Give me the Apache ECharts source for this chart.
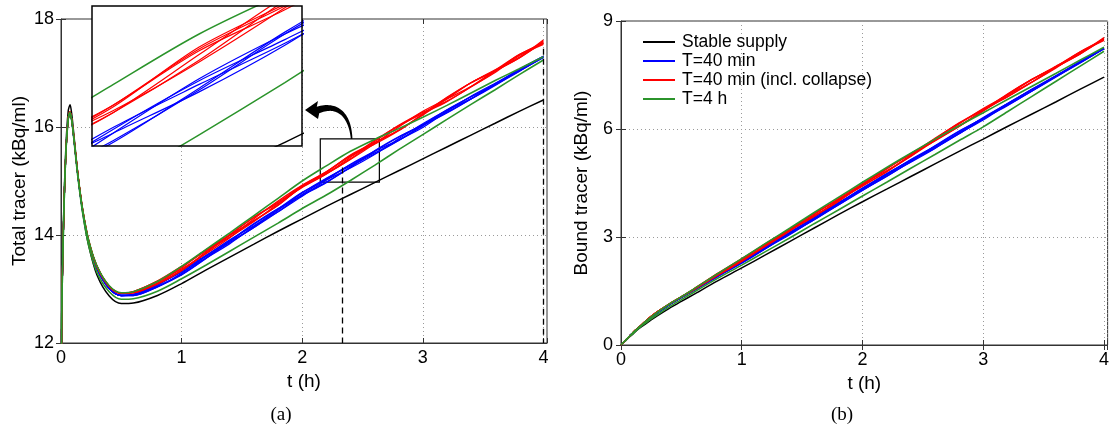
<!DOCTYPE html>
<html>
<head>
<meta charset="utf-8">
<script src="https://cdn.jsdelivr.net/npm/echarts@6/dist/echarts.min.js"></script>
<style>
  html, body { margin: 0; padding: 0; background: #fff; }
  #chart { width: 1112px; height: 433px; }
</style>
</head>
<body>
<div id="chart"></div>
<script>
// Sampling times (h)
const timeH = [0, 0.005, 0.02, 0.04, 0.06, 0.075, 0.09, 0.11, 0.14, 0.18, 0.23, 0.3, 0.4,
  0.5, 0.6, 0.8, 1.0, 1.2, 1.4, 1.6, 1.8, 2.0, 2.2, 2.4, 2.6, 2.8, 3.0, 3.2, 3.4, 3.6, 3.8, 4.0];

// Tick labels
const timeTicks = [0, 1, 2, 3, 4];
const totalTicks = [12, 14, 16, 18];
const boundTicks = [0, 3, 6, 9];

// Total tracer (kBq/ml)
const stableTotal = [0, 12.3, 14.2, 15.6, 16.3, 16.41, 16.22, 15.78, 15.12, 14.42, 13.8, 13.25, 12.87,
  12.73, 12.74, 12.88, 13.10, 13.35, 13.59, 13.83, 14.07, 14.30, 14.53, 14.75, 14.97, 15.19, 15.41, 15.63, 15.85, 16.07, 16.29, 16.50];

const t40Total = [
  [0, 12.2, 14.1, 15.5, 16.15, 16.27, 16.11, 15.72, 15.1, 14.44, 13.86, 13.37, 13.01,
   12.88, 12.90, 13.08, 13.33, 13.60, 13.86, 14.14, 14.46, 14.78, 15.05, 15.28, 15.50, 15.75, 16.04, 16.32, 16.56, 16.78, 17.03, 17.30],
  [0, 12.2, 14.1, 15.5, 16.15, 16.27, 16.11, 15.72, 15.1, 14.44, 13.86, 13.37, 13.01,
   12.88, 12.89, 13.05, 13.27, 13.57, 13.89, 14.20, 14.48, 14.73, 14.97, 15.26, 15.56, 15.82, 16.03, 16.26, 16.52, 16.80, 17.07, 17.31],
  [0, 12.2, 14.1, 15.5, 16.15, 16.27, 16.11, 15.72, 15.1, 14.44, 13.86, 13.37, 13.01,
   12.88, 12.88, 13.04, 13.29, 13.61, 13.91, 14.17, 14.43, 14.72, 15.02, 15.31, 15.55, 15.76, 15.99, 16.29, 16.57, 16.81, 17.04, 17.29],
  [0, 12.2, 14.1, 15.5, 16.15, 16.27, 16.11, 15.72, 15.1, 14.44, 13.86, 13.37, 13.01,
   12.88, 12.90, 13.09, 13.31, 13.57, 13.84, 14.16, 14.48, 14.79, 15.02, 15.24, 15.49, 15.78, 16.06, 16.31, 16.52, 16.77, 17.06, 17.31],
  [0, 12.2, 14.1, 15.5, 16.15, 16.27, 16.11, 15.72, 15.1, 14.44, 13.86, 13.37, 13.01,
   12.88, 12.89, 13.07, 13.34, 13.62, 13.88, 14.14, 14.43, 14.75, 15.04, 15.30, 15.52, 15.75, 16.02, 16.31, 16.56, 16.79, 17.04, 17.29],
  [0, 12.2, 14.1, 15.5, 16.15, 16.27, 16.11, 15.72, 15.1, 14.44, 13.86, 13.37, 13.01,
   12.88, 12.88, 13.04, 13.26, 13.56, 13.89, 14.21, 14.49, 14.74, 14.98, 15.25, 15.55, 15.81, 16.04, 16.27, 16.52, 16.79, 17.06, 17.30]
];

const collapseTotal = [
  [0, 12.2, 14.1, 15.5, 16.15, 16.28, 16.12, 15.74, 15.12, 14.46, 13.89, 13.41, 13.05,
   12.92, 12.95, 13.15, 13.42, 13.70, 13.96, 14.25, 14.58, 14.92, 15.17, 15.46, 15.68, 15.93, 16.24, 16.55, 16.82, 17.04, 17.28, 17.59],
  [0, 12.2, 14.1, 15.5, 16.15, 16.28, 16.12, 15.74, 15.12, 14.46, 13.89, 13.41, 13.05,
   12.92, 12.94, 13.10, 13.35, 13.68, 14.01, 14.33, 14.59, 14.88, 15.13, 15.44, 15.75, 16.02, 16.25, 16.47, 16.75, 17.05, 17.34, 17.55],
  [0, 12.2, 14.1, 15.5, 16.15, 16.28, 16.12, 15.74, 15.12, 14.46, 13.89, 13.41, 13.05,
   12.92, 12.93, 13.11, 13.39, 13.72, 14.00, 14.27, 14.55, 14.90, 15.16, 15.48, 15.71, 15.94, 16.22, 16.52, 16.82, 17.06, 17.29, 17.61],
  [0, 12.2, 14.1, 15.5, 16.15, 16.28, 16.12, 15.74, 15.12, 14.46, 13.89, 13.41, 13.05,
   12.92, 12.95, 13.14, 13.37, 13.65, 13.95, 14.30, 14.63, 14.92, 15.14, 15.40, 15.69, 16.00, 16.29, 16.52, 16.75, 17.01, 17.32, 17.53],
  [0, 12.2, 14.1, 15.5, 16.15, 16.28, 16.12, 15.74, 15.12, 14.46, 13.89, 13.41, 13.05,
   12.92, 12.94, 13.13, 13.41, 13.72, 13.99, 14.26, 14.55, 14.90, 15.17, 15.47, 15.70, 15.94, 16.23, 16.54, 16.82, 17.04, 17.28, 17.57],
  [0, 12.2, 14.1, 15.5, 16.15, 16.28, 16.12, 15.74, 15.12, 14.46, 13.89, 13.41, 13.05,
   12.92, 12.93, 13.09, 13.34, 13.66, 14.00, 14.33, 14.61, 14.89, 15.13, 15.41, 15.73, 16.03, 16.27, 16.48, 16.74, 17.03, 17.34, 17.56]
];

const t4hTotal = [
  [0, 12.2, 14.1, 15.5, 16.15, 16.27, 16.12, 15.74, 15.12, 14.47, 13.9, 13.42, 13.06,
   12.93, 12.95, 13.14, 13.42, 13.73, 14.04, 14.36, 14.68, 15.00, 15.28, 15.55, 15.77, 15.97, 16.18, 16.40, 16.63, 16.86, 17.08, 17.30],
  [0, 12.2, 14.1, 15.5, 16.14, 16.26, 16.1, 15.7, 15.07, 14.4, 13.8, 13.3, 12.95,
   12.81, 12.82, 12.96, 13.19, 13.44, 13.70, 13.96, 14.22, 14.49, 14.74, 15.01, 15.29, 15.58, 15.86, 16.14, 16.42, 16.69, 16.97, 17.24]
];

// Bound tracer (kBq/ml)
const stableBound = [0, 0.02, 0.07, 0.13, 0.19, 0.24, 0.28, 0.34, 0.43, 0.53, 0.65, 0.81, 1.02,
  1.21, 1.40, 1.78, 2.14, 2.51, 2.88, 3.25, 3.62, 3.98, 4.33, 4.68, 5.03, 5.38, 5.72, 6.07, 6.41, 6.75, 7.10, 7.44];

const t40Bound = [
  [0, 0.02, 0.07, 0.14, 0.21, 0.26, 0.31, 0.37, 0.46, 0.58, 0.72, 0.89, 1.12,
   1.32, 1.53, 1.94, 2.34, 2.72, 3.09, 3.48, 3.92, 4.35, 4.76, 5.12, 5.47, 5.87, 6.30, 6.71, 7.09, 7.45, 7.83, 8.24],
  [0, 0.02, 0.07, 0.14, 0.21, 0.26, 0.31, 0.37, 0.46, 0.58, 0.72, 0.89, 1.12,
   1.32, 1.52, 1.91, 2.28, 2.69, 3.12, 3.54, 3.94, 4.30, 4.68, 5.10, 5.53, 5.94, 6.29, 6.65, 7.05, 7.47, 7.87, 8.25],
  [0, 0.02, 0.07, 0.14, 0.21, 0.26, 0.31, 0.37, 0.46, 0.58, 0.72, 0.89, 1.12,
   1.32, 1.51, 1.90, 2.30, 2.73, 3.14, 3.51, 3.89, 4.29, 4.73, 5.15, 5.52, 5.88, 6.25, 6.68, 7.10, 7.48, 7.84, 8.23],
  [0, 0.02, 0.07, 0.14, 0.21, 0.26, 0.31, 0.37, 0.46, 0.58, 0.72, 0.89, 1.12,
   1.32, 1.53, 1.95, 2.32, 2.69, 3.07, 3.50, 3.94, 4.36, 4.73, 5.08, 5.46, 5.90, 6.32, 6.70, 7.05, 7.44, 7.86, 8.25],
  [0, 0.02, 0.07, 0.14, 0.21, 0.26, 0.31, 0.37, 0.46, 0.58, 0.72, 0.89, 1.12,
   1.32, 1.52, 1.93, 2.35, 2.74, 3.11, 3.48, 3.89, 4.32, 4.75, 5.14, 5.49, 5.87, 6.28, 6.70, 7.09, 7.46, 7.84, 8.23],
  [0, 0.02, 0.07, 0.14, 0.21, 0.26, 0.31, 0.37, 0.46, 0.58, 0.72, 0.89, 1.12,
   1.32, 1.51, 1.90, 2.27, 2.68, 3.12, 3.55, 3.95, 4.31, 4.69, 5.09, 5.52, 5.93, 6.30, 6.66, 7.05, 7.46, 7.86, 8.24]
];

const collapseBound = [
  [0, 0.02, 0.07, 0.14, 0.21, 0.26, 0.31, 0.38, 0.47, 0.59, 0.74, 0.92, 1.14,
   1.34, 1.55, 1.99, 2.40, 2.80, 3.18, 3.57, 4.02, 4.48, 4.91, 5.30, 5.67, 6.07, 6.52, 6.97, 7.37, 7.72, 8.08, 8.52],
  [0, 0.02, 0.07, 0.14, 0.21, 0.26, 0.31, 0.38, 0.47, 0.59, 0.74, 0.92, 1.14,
   1.34, 1.54, 1.94, 2.33, 2.78, 3.23, 3.65, 4.03, 4.41, 4.82, 5.28, 5.74, 6.16, 6.53, 6.89, 7.30, 7.73, 8.14, 8.48],
  [0, 0.02, 0.07, 0.14, 0.21, 0.26, 0.31, 0.38, 0.47, 0.59, 0.74, 0.92, 1.14,
   1.34, 1.53, 1.95, 2.37, 2.82, 3.22, 3.59, 3.99, 4.44, 4.89, 5.32, 5.70, 6.08, 6.50, 6.94, 7.37, 7.74, 8.09, 8.54],
  [0, 0.02, 0.07, 0.14, 0.21, 0.26, 0.31, 0.38, 0.47, 0.59, 0.74, 0.92, 1.14,
   1.34, 1.55, 1.98, 2.35, 2.75, 3.17, 3.62, 4.07, 4.48, 4.84, 5.24, 5.68, 6.14, 6.57, 6.94, 7.30, 7.69, 8.12, 8.46],
  [0, 0.02, 0.07, 0.14, 0.21, 0.26, 0.31, 0.38, 0.47, 0.59, 0.74, 0.92, 1.14,
   1.34, 1.54, 1.97, 2.39, 2.82, 3.21, 3.58, 3.99, 4.45, 4.90, 5.31, 5.69, 6.08, 6.51, 6.96, 7.37, 7.72, 8.08, 8.50],
  [0, 0.02, 0.07, 0.14, 0.21, 0.26, 0.31, 0.38, 0.47, 0.59, 0.74, 0.92, 1.14,
   1.34, 1.53, 1.93, 2.32, 2.76, 3.22, 3.65, 4.05, 4.43, 4.81, 5.25, 5.72, 6.17, 6.55, 6.90, 7.29, 7.71, 8.14, 8.49]
];

const t4hBound = [
  [0, 0.02, 0.07, 0.14, 0.21, 0.26, 0.31, 0.38, 0.47, 0.59, 0.73, 0.91, 1.14,
   1.34, 1.55, 1.98, 2.40, 2.83, 3.25, 3.68, 4.10, 4.52, 4.93, 5.33, 5.72, 6.09, 6.45, 6.82, 7.18, 7.54, 7.91, 8.27],
  [0, 0.02, 0.07, 0.13, 0.20, 0.25, 0.29, 0.35, 0.44, 0.55, 0.68, 0.84, 1.06,
   1.26, 1.46, 1.85, 2.22, 2.60, 2.98, 3.37, 3.75, 4.14, 4.52, 4.91, 5.29, 5.68, 6.06, 6.48, 6.90, 7.32, 7.74, 8.16]
];

// Region of interest outlined on the total-tracer panel, and the ranges of the magnified view
const zoomTime = [2.15, 2.64];
const zoomBoxTotal = [14.98, 15.78];
const insetTotal = [14.95, 15.70];
const markedTimes = [2.33, 4.0];
const markedTops = [15.25, 17.45];

const NAMES = ['Stable supply', 'T=40 min', 'T=40 min (incl. collapse)', 'T=4 h'];
const COLORS = ['#000000', '#0000ff', '#ff0000', '#2b942b'];
const FONT = 'Liberation Sans';

// Layout (pixels)
const G_LEFT = { left: 61, top: 19, width: 486, height: 324 };
const G_RIGHT = { left: 621, top: 21, width: 488, height: 324 };
const G_INSET = { left: 92, top: 6, width: 210, height: 140 };
const X_MAX = 4.03;

const pairs = vals => timeH.map((t, i) => [t, vals[i]]);

function curve(name, color, vals, axis, width, z) {
  return {
    type: 'line', name: name, data: pairs(vals),
    xAxisIndex: axis, yAxisIndex: axis,
    showSymbol: false, symbol: 'none',
    smooth: 0.3,
    lineStyle: { color: color, width: width },
    itemStyle: { color: color },
    emphasis: { disabled: true },
    silent: true, animation: false, z: z
  };
}

function family(axis, stable, t40, collapse, t4h, w, z) {
  const out = [];
  out.push(curve(NAMES[0], COLORS[0], stable, axis, w + 0.2, z));
  t40.forEach(v => out.push(curve(NAMES[1], COLORS[1], v, axis, w, z)));
  collapse.forEach(v => out.push(curve(NAMES[2], COLORS[2], v, axis, w, z)));
  t4h.forEach(v => out.push(curve(NAMES[3], COLORS[3], v, axis, w + 0.3, z)));
  return out;
}

const leftSeries = family(0, stableTotal, t40Total, collapseTotal, t4hTotal, 1.3, 2);
const rightSeries = family(2, stableBound, t40Bound, collapseBound, t4hBound, 1.3, 2);
const insetSeries = family(4, stableTotal, t40Total, collapseTotal, t4hTotal, 1.2, 5);

// Zoom window outline and dashed time markers on the total-tracer panel
leftSeries[0].markArea = {
  silent: true,
  itemStyle: { color: 'rgba(0,0,0,0)', borderColor: '#000', borderWidth: 1.2 },
  data: [[{ coord: [zoomTime[0], zoomBoxTotal[1]] }, { coord: [zoomTime[1], zoomBoxTotal[0]] }]]
};
leftSeries[0].markLine = {
  silent: true, symbol: ['none', 'none'], label: { show: false },
  lineStyle: { color: '#000', width: 1.3, type: [6, 4] },
  data: markedTimes.map((t, i) => [{ coord: [t, markedTops[i]] }, { coord: [t, totalTicks[0]] }])
};

const tickText = { fontSize: 18, fontFamily: FONT, color: '#000' };
const nameText = { fontSize: 19, fontFamily: FONT, color: '#000' };
const frameColor = '#333';
const gridLine = { show: true, lineStyle: { color: '#9a9a9a', type: [1, 3], width: 1 } };

function timeAxis(gridIndex, position, labels) {
  return {
    type: 'value', gridIndex: gridIndex, position: position,
    min: timeTicks[0], max: X_MAX, interval: timeTicks[1] - timeTicks[0],
    name: labels ? 't (h)' : '', nameLocation: 'middle', nameGap: 28, nameTextStyle: nameText,
    axisLine: { show: labels, lineStyle: { color: frameColor } },
    axisTick: { show: true, inside: true, length: 5, lineStyle: { color: frameColor } },
    axisLabel: { show: labels, margin: 6, ...tickText,
      formatter: v => (timeTicks.indexOf(Math.round(v * 1000) / 1000) >= 0 ? String(v) : '') },
    splitLine: labels ? gridLine : { show: false }
  };
}

function valueAxis(gridIndex, position, ticks, name, labels, gap, margin) {
  return {
    type: 'value', gridIndex: gridIndex, position: position,
    min: ticks[0], max: ticks[ticks.length - 1], interval: ticks[1] - ticks[0],
    name: labels ? name : '', nameLocation: 'middle', nameGap: gap, nameTextStyle: nameText,
    axisLine: { show: labels, lineStyle: { color: frameColor } },
    axisTick: { show: true, inside: true, length: 5, lineStyle: { color: frameColor } },
    axisLabel: { show: labels, margin: margin, ...tickText },
    splitLine: labels ? gridLine : { show: false }
  };
}

const hidden = (gridIndex, range) => ({
  type: 'value', gridIndex: gridIndex, min: range[0], max: range[1], show: false,
  splitLine: { show: false }
});

const chart = echarts.init(document.getElementById('chart'), null, { renderer: 'canvas' });

chart.setOption({
  backgroundColor: '#fff',
  animation: false,
  grid: [
    { ...G_LEFT, show: true, borderColor: frameColor, borderWidth: 1, backgroundColor: 'transparent' },
    { ...G_RIGHT, show: true, borderColor: frameColor, borderWidth: 1, backgroundColor: 'transparent' },
    { ...G_INSET, show: false }
  ],
  xAxis: [
    timeAxis(0, 'bottom', true), timeAxis(0, 'top', false),
    timeAxis(1, 'bottom', true), timeAxis(1, 'top', false),
    hidden(2, zoomTime)
  ],
  yAxis: [
    valueAxis(0, 'left', totalTicks, 'Total tracer (kBq/ml)', true, 32, 7),
    valueAxis(0, 'right', totalTicks, '', false, 0, 0),
    valueAxis(1, 'left', boundTicks, 'Bound tracer (kBq/ml)', true, 30, 8),
    valueAxis(1, 'right', boundTicks, '', false, 0, 0),
    hidden(2, insetTotal)
  ],
  legend: {
    data: NAMES, orient: 'vertical', left: 638, top: 28,
    icon: 'rect', itemWidth: 32, itemHeight: 2, itemGap: 1,
    selectedMode: false,
    textStyle: { fontSize: 17.5, fontFamily: FONT, color: '#000', lineHeight: 18, padding: [0, 0, 0, 2] }
  },
  series: leftSeries.concat(rightSeries, insetSeries)
});

// Curved pointer from the zoom window to the magnified view
function cubic(p0, p1, p2, p3, s) {
  const u = 1 - s;
  return [0, 1].map(k => u * u * u * p0[k] + 3 * u * u * s * p1[k] + 3 * u * s * s * p2[k] + s * s * s * p3[k]);
}
function cubicD(p0, p1, p2, p3, s) {
  const u = 1 - s;
  return [0, 1].map(k => 3 * u * u * (p1[k] - p0[k]) + 6 * u * s * (p2[k] - p1[k]) + 3 * s * s * (p3[k] - p2[k]));
}
function unit(v) { const l = Math.hypot(v[0], v[1]) || 1; return [v[0] / l, v[1] / l]; }

function arrowPoints(tail, c1, c2, base, tip, wTail, wBase, headHalf) {
  const n = 30, a = [], b = [];
  for (let i = 0; i <= n; i++) {
    const s = i / n;
    const p = cubic(tail, c1, c2, base, s);
    const d = unit(cubicD(tail, c1, c2, base, s));
    const nv = [-d[1], d[0]];
    const w = wTail + (wBase - wTail) * s;
    a.push([p[0] + nv[0] * w, p[1] + nv[1] * w]);
    b.push([p[0] - nv[0] * w, p[1] - nv[1] * w]);
  }
  const hd = unit([tip[0] - base[0], tip[1] - base[1]]);
  const hn = [-hd[1], hd[0]];
  return a.concat(
    [[base[0] + hn[0] * headHalf, base[1] + hn[1] * headHalf], tip,
     [base[0] - hn[0] * headHalf, base[1] - hn[1] * headHalf]],
    b.reverse()
  );
}

const tail = chart.convertToPixel({ xAxisIndex: 0, yAxisIndex: 0 }, [2.41, zoomBoxTotal[1]]);
const tip = [G_INSET.left + G_INSET.width + 3, G_INSET.top + 104];
const base = [tip[0] + 13, tip[1]];
const c1 = [tail[0] - 2, tail[1] - 28];
const c2 = [base[0] + 16, base[1] - 6];

chart.setOption({
  graphic: [
    { type: 'rect', z: 1, silent: true,
      shape: { x: G_INSET.left, y: G_INSET.top, width: G_INSET.width, height: G_INSET.height },
      style: { fill: '#fff', stroke: null } },
    { type: 'rect', z: 6, silent: true,
      shape: { x: G_INSET.left, y: G_INSET.top, width: G_INSET.width, height: G_INSET.height },
      style: { fill: null, stroke: '#000', lineWidth: 1.5 } },
    { type: 'polygon', z: 6, silent: true,
      shape: { points: arrowPoints(tail, c1, c2, base, tip, 0.8, 3.5, 9) },
      style: { fill: '#000', stroke: null } },
    { type: 'text', z: 6, silent: true, x: 281, y: 415,
      style: { text: '(a)', font: '19px "Liberation Serif"', fill: '#000', textAlign: 'center', textVerticalAlign: 'middle' } },
    { type: 'text', z: 6, silent: true, x: 842, y: 415,
      style: { text: '(b)', font: '19px "Liberation Serif"', fill: '#000', textAlign: 'center', textVerticalAlign: 'middle' } }
  ]
});
</script>
</body>
</html>
